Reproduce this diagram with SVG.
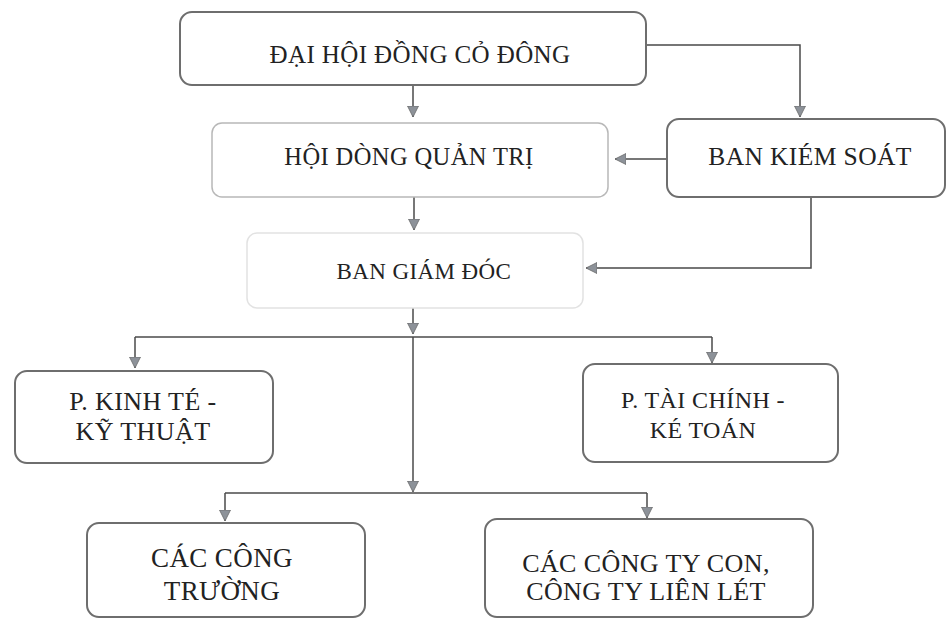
<svg xmlns="http://www.w3.org/2000/svg" width="947" height="620" viewBox="0 0 947 620">
  <style>
    .box { fill: #ffffff; stroke: #6e6e6e; stroke-width: 2; }
    .light { stroke: #b8b8b8; stroke-width: 1.5; }
    .pale { stroke: #e2e2e2; stroke-width: 1.5; }
    .t { font-family: "Liberation Serif", "Times New Roman", serif; fill: #222222; text-anchor: middle; font-size: 24px; letter-spacing: 0.4px; }
    .c { fill: none; stroke: #4a4a4a; stroke-width: 1.5; }
  </style>
  <defs>
    <marker id="ah" viewBox="0 0 12 12" refX="11" refY="6" markerWidth="12" markerHeight="12" markerUnits="userSpaceOnUse" orient="auto">
      <path d="M0,0.5 L11,6 L0,11.5 Z" fill="#8d9299" stroke="#6a6a6a" stroke-width="0.8"/>
    </marker>
  </defs>
  <rect width="947" height="620" fill="#ffffff"/>

  <g id="connectors">
    <path class="c" d="M413 85 V117" marker-end="url(#ah)"/>
    <path class="c" d="M646 45 H800 V117" marker-end="url(#ah)"/>
    <path class="c" d="M667 159 H615" marker-end="url(#ah)"/>
    <path class="c" d="M414 197 V230" marker-end="url(#ah)"/>
    <path class="c" d="M811 197 V268 H586" marker-end="url(#ah)"/>
    <path class="c" d="M413 308 V334" marker-end="url(#ah)"/>
    <path class="c" d="M135 337 H712"/>
    <path class="c" d="M135 337 V368" marker-end="url(#ah)"/>
    <path class="c" d="M712 337 V363" marker-end="url(#ah)"/>
    <path class="c" d="M413 337 V492" marker-end="url(#ah)"/>
    <path class="c" d="M225 493 H647"/>
    <path class="c" d="M225 493 V521" marker-end="url(#ah)"/>
    <path class="c" d="M647 493 V518" marker-end="url(#ah)"/>
  </g>

  <g id="dai-hoi-dong-co-dong">
    <rect class="box" x="180" y="12" width="466" height="73" rx="12"/>
    <text class="t" x="420" y="63" style="font-size:25px">ĐẠI HỘI ĐỒNG CỎ ĐÔNG</text>
  </g>

  <g id="hoi-dong-quan-tri">
    <rect class="box light" x="212" y="123" width="396" height="74" rx="10"/>
    <text class="t" x="409" y="165" style="font-size:24.5px">HỘI DÒNG QUẢN TRỊ</text>
  </g>

  <g id="ban-kiem-soat">
    <rect class="box" x="667" y="119" width="278" height="78" rx="12"/>
    <text class="t" x="810" y="165" style="font-size:25.5px">BAN KIÉM SOÁT</text>
  </g>

  <g id="ban-giam-doc">
    <rect class="box pale" x="247" y="233" width="336" height="75" rx="10"/>
    <text class="t" x="424" y="279" style="font-size:23px">BAN GIÁM ĐÓC</text>
  </g>

  <g id="p-kinh-te-ky-thuat">
    <rect class="box" x="15" y="371" width="258" height="92" rx="12"/>
    <text class="t" x="143" y="410" style="font-size:26px">P. KINH TÉ -</text>
    <text class="t" x="143" y="440" style="font-size:26px">KỸ THUẬT</text>
  </g>

  <g id="p-tai-chinh-ke-toan">
    <rect class="box" x="583" y="364" width="255" height="98" rx="12"/>
    <text class="t" x="703" y="408">P. TÀI CHÍNH -</text>
    <text class="t" x="703" y="438">KÉ TOÁN</text>
  </g>

  <g id="cac-cong-truong">
    <rect class="box" x="87" y="523" width="278" height="94" rx="12"/>
    <text class="t" x="222" y="567" style="font-size:27px">CÁC CÔNG</text>
    <text class="t" x="222" y="600" style="font-size:27px">TRƯỜNG</text>
  </g>

  <g id="cac-cong-ty-con">
    <rect class="box" x="485" y="519" width="328" height="98" rx="12"/>
    <text class="t" x="646" y="572" style="font-size:26px">CÁC CÔNG TY CON,</text>
    <text class="t" x="646" y="600" style="font-size:26px">CÔNG TY LIÊN LÉT</text>
  </g>
</svg>
